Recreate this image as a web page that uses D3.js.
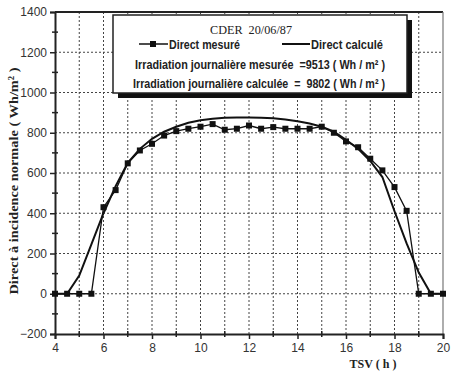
<!DOCTYPE html>
<html>
<head>
<meta charset="utf-8">
<script src="https://cdn.jsdelivr.net/npm/d3@7"></script>
<style>
  html, body { margin: 0; padding: 0; background: #fff; }
  svg { display: block; }
</style>
</head>
<body>
<svg id="chart" width="452" height="376"></svg>
<script>
// Solar time (h), half-hour steps
const hours = [4, 4.5, 5, 5.5, 6, 6.5, 7, 7.5, 8, 8.5, 9, 9.5, 10, 10.5, 11, 11.5, 12,
               12.5, 13, 13.5, 14, 14.5, 15, 15.5, 16, 16.5, 17, 17.5, 18, 18.5, 19, 19.5, 20];
// Direct normal irradiance, measured (W/m²)
const measured = [0, 0, 0, 0, 430, 515, 648, 712, 745, 786, 808, 820, 830, 843, 815, 820, 836,
                  820, 828, 820, 820, 820, 830, 800, 757, 728, 671, 613, 530, 412, 0, 0, 0];
// Direct normal irradiance, calculated (W/m²)
const calculated = [0, 0, 90, 245, 400, 535, 650, 720, 770, 805, 830, 850, 862, 870, 874, 876, 876,
                    875, 872, 866, 857, 846, 830, 805, 765, 720, 660, 580, 410, 250, 105, 0, 0];

const xTicks = [4, 6, 8, 10, 12, 14, 16, 18, 20];
const yTicks = [-200, 0, 200, 400, 600, 800, 1000, 1200, 1400];

const legendTitle = "CDER  20/06/87";
const legendSeries = ["Direct mesuré", "Direct calculé"];
const dailyMeasured = 9513;
const dailyCalculated = 9802;

const svg = d3.select("#chart");
const m = { left: 55, top: 12, right: 443, bottom: 334 };

const x = d3.scaleLinear().domain([4, 20]).range([m.left, m.right]);
const y = d3.scaleLinear().domain([-200, 1400]).range([m.bottom, m.top]);

const sansNarrow = "'Liberation Sans Narrow', 'Arial Narrow', 'Liberation Sans', sans-serif";
const serif = "'Liberation Serif', 'Times New Roman', serif";

// Dotted grid: every hour, every 200 W/m²
const grid = svg.append("g");
grid.selectAll("line.gx").data(d3.range(5, 20, 1)).join("line")
  .attr("x1", d => x(d)).attr("x2", d => x(d))
  .attr("y1", m.top).attr("y2", m.bottom)
  .attr("stroke", "#444").attr("stroke-width", 1).attr("stroke-dasharray", "2,2");
grid.selectAll("line.gy").data(yTicks.slice(1, -1)).join("line")
  .attr("x1", m.left).attr("x2", m.right)
  .attr("y1", d => y(d)).attr("y2", d => y(d))
  .attr("stroke", "#444").attr("stroke-width", 1).attr("stroke-dasharray", "2,2");

// Frame: heavy top, lighter right side
svg.append("line").attr("x1", m.left).attr("x2", m.right).attr("y1", m.top).attr("y2", m.top)
  .attr("stroke", "#222").attr("stroke-width", 2);
svg.append("line").attr("x1", m.right).attr("x2", m.right).attr("y1", m.top).attr("y2", m.bottom)
  .attr("stroke", "#777").attr("stroke-width", 1.2);

// Axes
const xAxis = d3.axisBottom(x).tickValues(xTicks).tickSize(5).tickPadding(4).tickFormat(d3.format("d"));
const gx = svg.append("g").attr("transform", `translate(0,${m.bottom})`).call(xAxis);
gx.select(".domain").attr("stroke", "#222").attr("stroke-width", 2);
gx.selectAll("text").attr("font-family", sansNarrow).attr("font-size", 12).attr("fill", "#333");
gx.selectAll(".tick line").attr("stroke", "#222").attr("stroke-width", 1.5);
// minor x ticks
svg.append("g").selectAll("line").data(d3.range(5, 20, 2)).join("line")
  .attr("x1", d => x(d)).attr("x2", d => x(d))
  .attr("y1", m.bottom - 3).attr("y2", m.bottom + 3)
  .attr("stroke", "#222").attr("stroke-width", 1.5);

const yAxis = d3.axisLeft(y).tickValues(yTicks).tickSize(5).tickPadding(3).tickFormat(d3.format("d"));
const gy = svg.append("g").attr("transform", `translate(${m.left},0)`).call(yAxis);
gy.select(".domain").attr("stroke", "#222").attr("stroke-width", 2);
gy.selectAll("text").attr("font-family", sansNarrow).attr("font-size", 12).attr("fill", "#333");
gy.selectAll(".tick line").attr("stroke", "#222").attr("stroke-width", 1.5);
// minor y ticks
svg.append("g").selectAll("line").data(d3.range(-100, 1400, 200)).join("line")
  .attr("x1", m.left - 3).attr("x2", m.left + 3)
  .attr("y1", d => y(d)).attr("y2", d => y(d))
  .attr("stroke", "#222").attr("stroke-width", 1.5);

// Axis titles
svg.append("text")
  .attr("transform", "translate(18,181) rotate(-90)")
  .attr("text-anchor", "middle")
  .attr("textLength", 227).attr("lengthAdjust", "spacingAndGlyphs")
  .attr("font-family", serif).attr("font-weight", "bold").attr("font-size", 13.5).attr("fill", "#222")
  .text("Direct à incidence normale ( Wh/m² )");

svg.append("text")
  .attr("x", 373).attr("y", 368).attr("text-anchor", "middle")
  .attr("font-family", serif).attr("font-weight", "bold").attr("font-size", 12).attr("fill", "#222")
  .text("TSV ( h )");

// Series
const pts = (vals) => hours.map((h, i) => [h, vals[i]]);
const line = d3.line().x(d => x(d[0])).y(d => y(d[1]));

svg.append("path").datum(pts(calculated))
  .attr("d", line).attr("fill", "none").attr("stroke", "#111").attr("stroke-width", 2);

svg.append("path").datum(pts(measured))
  .attr("d", line).attr("fill", "none").attr("stroke", "#111").attr("stroke-width", 1.3);

svg.append("g").selectAll("rect").data(pts(measured)).join("rect")
  .attr("x", d => x(d[0]) - 3).attr("y", d => y(d[1]) - 3)
  .attr("width", 6).attr("height", 6).attr("fill", "#111");

// Legend box with drop shadow
const L = { x: 113, y: 15, w: 294, h: 78 };
svg.append("rect").attr("x", L.x + 5).attr("y", L.y + 5).attr("width", L.w).attr("height", L.h).attr("fill", "#111");
svg.append("rect").attr("x", L.x).attr("y", L.y).attr("width", L.w).attr("height", L.h)
  .attr("fill", "#fff").attr("stroke", "#222").attr("stroke-width", 1.5);

const lg = svg.append("g");
lg.append("text").attr("x", 210).attr("y", 34)
  .attr("textLength", 82).attr("lengthAdjust", "spacingAndGlyphs")
  .attr("font-family", serif).attr("font-size", 13).attr("fill", "#222")
  .style("white-space", "pre")
  .text(legendTitle);

// series keys
lg.append("line").attr("x1", 139).attr("x2", 168).attr("y1", 44).attr("y2", 44)
  .attr("stroke", "#111").attr("stroke-width", 1.5);
lg.append("rect").attr("x", 150).attr("y", 41).attr("width", 6).attr("height", 6).attr("fill", "#111");
lg.append("line").attr("x1", 282).attr("x2", 310).attr("y1", 44).attr("y2", 44)
  .attr("stroke", "#111").attr("stroke-width", 2);

const legendFont = (sel) => sel.attr("font-family", sansNarrow).attr("font-weight", "bold")
  .attr("font-size", 13).attr("fill", "#222").attr("lengthAdjust", "spacingAndGlyphs");

lg.append("text").attr("x", 169).attr("y", 49).call(legendFont).attr("textLength", 71).text(legendSeries[0]);
lg.append("text").attr("x", 311).attr("y", 49).call(legendFont).attr("textLength", 72).text(legendSeries[1]);

lg.append("text").attr("x", 135).attr("y", 69).call(legendFont)
  .attr("textLength", 250).style("white-space", "pre")
  .text(`Irradiation journalière mesurée  =${dailyMeasured} ( Wh / m² )`);

lg.append("text").attr("x", 133).attr("y", 88).call(legendFont)
  .attr("textLength", 252).style("white-space", "pre")
  .text(`Irradiation journalière calculée  =  ${dailyCalculated} ( Wh / m² )`);
</script>
</body>
</html>
